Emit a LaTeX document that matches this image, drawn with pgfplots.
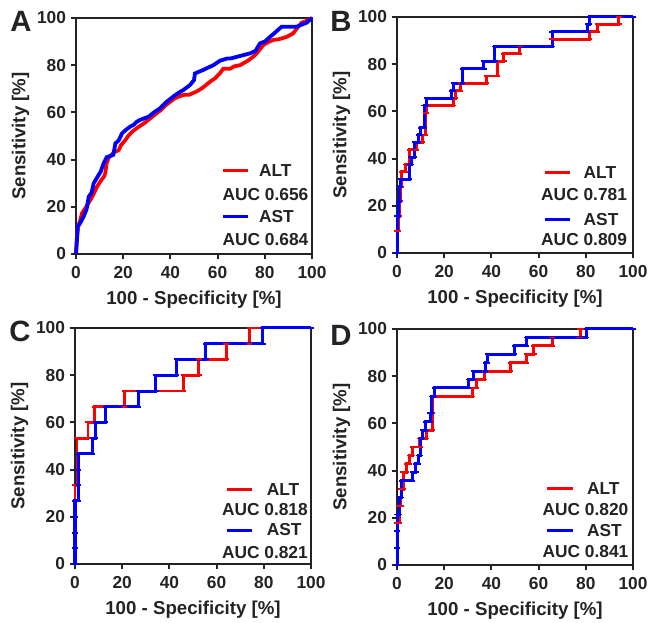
\documentclass[border=0pt]{standalone}
\usepackage{fontspec}
\setmainfont{Liberation Sans}
\usepackage{pgfplots}
\pgfplotsset{compat=1.18}
\definecolor{altred}{RGB}{255,0,0}
\definecolor{astblue}{RGB}{0,0,255}
\definecolor{ink}{RGB}{35,35,35}

\pgfplotsset{
  roc/.style={scale only axis, width=177pt, height=177pt, axis lines=box,
    xmin=0, xmax=100, ymin=0, ymax=100, clip=false,
    xtick={0,20,...,100}, ytick={0,20,...,100},
    tick pos=left, tick align=outside, major tick length=4pt,
    axis line style={line width=1.4pt, ink}, every tick/.style={line width=1.4pt, ink},
    tick label style={font=\fontsize{13}{13}\selectfont\bfseries, text=ink},
    xticklabel style={yshift=-2pt},
    /pgf/number format/assume math mode=true,
    label style={font=\fontsize{14}{14}\selectfont\bfseries, text=ink},
    xlabel shift=2pt, ylabel shift=-1pt,
    xlabel={100 - Specificity [\%]}, ylabel={Sensitivity [\%]},
    every axis plot/.append style={line width=2.2pt}},
  stepmarks/.style={mark=-, mark size=2pt, mark options={line width=1.4pt}},
}
% legend: #1 line x0, #2 ALT x, #3 AUC x, #4-#7 row heights, #8 #9 AUC values
\newcommand{\rocleg}[9]{%
  \draw[ink, line width=1.45pt] (rel axis cs:0,1) -- (rel axis cs:1,1) -- (rel axis cs:1,0);
  \draw[altred, line width=2.2pt] (rel axis cs:#1,#4) -- (rel axis cs:#1+0.108,#4);
  \node[anchor=west, inner sep=0pt, font=\fontsize{13}{13}\selectfont\bfseries, text=ink] at (rel axis cs:#2,#4) {ALT};
  \node[anchor=west, inner sep=0pt, font=\fontsize{13}{13}\selectfont\bfseries, text=ink] at (rel axis cs:#3,#5) {AUC #8};
  \draw[astblue, line width=2.25pt] (rel axis cs:#1,#6) -- (rel axis cs:#1+0.108,#6);
  \node[anchor=west, inner sep=0pt, font=\fontsize{13}{13}\selectfont\bfseries, text=ink] at (rel axis cs:#2,#6) {AST};
  \node[anchor=west, inner sep=0pt, font=\fontsize{13}{13}\selectfont\bfseries, text=ink] at (rel axis cs:#3,#7) {AUC #9};
}

\begin{document}
\begin{tikzpicture}
\useasboundingbox (0,0) rectangle (487.5pt,-467.25pt);

% ---------- A ----------
\begin{axis}[roc, at={(57pt,-13.5pt)}, anchor=north west]
\rocleg{0.622}{0.775}{0.62}{0.353}{0.25}{0.158}{0.062}{0.656}{0.684}
\addplot[altred, line width=2.8pt] coordinates {(0,0) (0.3,6) (0.8,11.6) (1.7,14) (2.5,17.2) (4,19.5) (6.1,22.9) (7.5,25.5) (8.9,28.5) (10.5,31) (12,33) (12.4,34.2) (13,38.5) (14,41) (16,43) (18.1,44) (19,46) (20.9,48.3) (22.5,50.5) (24,52) (26.6,53.9) (29,55.5) (31.5,57.5) (34,59.5) (36,61) (38,63) (41.2,65.5) (43,66.5) (45.5,67.4) (48,67.5) (51,68.8) (53,70) (55,71.5) (56.8,73) (59,74.5) (61,76.6) (62.4,78.5) (65.3,78.5) (67,79.5) (69.5,80) (70.9,80.8) (73,82) (75.1,83.6) (77,85.5) (79.4,88.6) (81.5,89.8) (83.6,90.7) (86,91) (89.3,92) (92,93.5) (94.2,96.3) (95.6,98) (97,98.5) (100,100)};
\addplot[astblue, line width=2.85pt] coordinates {(0,0) (0.4,5.9) (0.8,11.6) (2,13.5) (3.2,15.8) (4.5,19) (5.4,24.3) (6.6,26) (7.5,30) (9.6,33.5) (10.5,35) (11.7,38.4) (13,41) (15.8,42) (16.7,46.9) (18,48) (19.5,51.1) (21,52.5) (23,54) (24.4,54.7) (25.7,56) (27.1,56.8) (30.8,58.2) (33,60) (35.6,61.7) (38.4,64.5) (41.2,66.7) (43,68) (45.5,69.5) (48.3,71.6) (50,73.7) (50.4,76.5) (53.9,78) (56,79) (58.2,80) (61,81.9) (64,82.8) (65.3,82.8) (69.5,83.9) (73.7,85) (76,86) (78,89.3) (80,90) (82.2,92) (84,93.5) (87.1,96.3) (93.5,96.3) (95.6,97.2) (97.7,98) (100,100)};
\end{axis}

% ---------- B ----------
\begin{axis}[roc, at={(297.75pt,-12.75pt)}, anchor=north west]
\rocleg{0.626}{0.79}{0.61}{0.34}{0.246}{0.143}{0.055}{0.781}{0.809}
\addplot[altred, stepmarks] coordinates {(0,0) (0,9.4) (0.5,9.4) (0.5,15.6) (1,15.6) (1,21.9) (1.5,21.9) (1.5,28.1) (1.9,28.1) (1.9,34.4) (3.7,34.4) (3.7,37.5) (5.2,37.5) (5.2,43.75) (8.3,43.75) (8.3,46.9) (10.9,46.9) (10.9,50) (12,50) (12,59.4) (12.6,59.4) (12.6,62.5) (23.9,62.5) (23.9,65.6) (24.9,65.6) (24.9,68.75) (26.8,68.75) (26.8,71.9) (38,71.9) (38,75) (42.6,75) (42.6,81.25) (45.3,81.25) (45.3,84.4) (52,84.4) (52,87.5) (65.7,87.5) (65.7,90.6) (81.6,90.6) (81.6,93.75) (85,93.75) (85,96.9) (94,96.9) (94,100) (100,100)};
\addplot[astblue, stepmarks, line width=2.25pt] coordinates {(0,0) (0,15.6) (0.5,15.6) (0.5,21.9) (1,21.9) (1,28.1) (1.5,28.1) (1.5,31.25) (5.1,31.25) (5.1,37.5) (6,37.5) (6,40.6) (7.5,40.6) (7.5,46.9) (9,46.9) (9,50) (10,50) (10,53.1) (11.5,53.1) (11.5,62.5) (12.6,62.5) (12.6,65.6) (23.2,65.6) (23.2,68.75) (24,68.75) (24,71.9) (27.8,71.9) (27.8,78.1) (36.8,78.1) (36.8,81.25) (41.5,81.25) (41.5,87.5) (65.7,87.5) (65.7,93.75) (80.8,93.75) (80.8,96.9) (81.7,96.9) (81.7,100) (100,100)};
\end{axis}

% ---------- C ----------
\begin{axis}[roc, at={(56.25pt,-246pt)}, anchor=north west]
\rocleg{0.643}{0.812}{0.622}{0.317}{0.232}{0.144}{0.05}{0.818}{0.821}
\addplot[altred, stepmarks] coordinates {(0,0) (0,6.7) (0,13.3) (0,20) (0,26.7) (0,33.3) (0.85,33.3) (0.85,53.3) (5.5,53.3) (5.5,60) (8.4,60) (8.4,66.7) (21.1,66.7) (21.1,73.3) (45.9,73.3) (45.9,80) (52.5,80) (52.5,86.7) (64,86.7) (64,93.3) (73.8,93.3) (73.8,100) (100,100)};
\addplot[astblue, stepmarks, line width=2.25pt] coordinates {(0,0) (0,6.7) (0,13.3) (0,20) (0,26.7) (1.5,26.7) (1.5,33.3) (1.5,40) (1.5,46.7) (7.4,46.7) (7.4,53.3) (8.8,53.3) (8.8,60) (13,60) (13,66.7) (27,66.7) (27,73.3) (34.3,73.3) (34.3,80) (43,80) (43,86.7) (55.5,86.7) (55.5,93.3) (79.6,93.3) (79.6,100) (100,100)};
\end{axis}

% ---------- D ----------
\begin{axis}[roc, at={(297.75pt,-246.75pt)}, anchor=north west]
\rocleg{0.637}{0.804}{0.616}{0.325}{0.236}{0.145}{0.055}{0.820}{0.841}
\addplot[altred, stepmarks] coordinates {(0,0) (0,7.1) (0,14.3) (0,17.9) (0.9,17.9) (0.9,25) (1.7,25) (1.7,32.1) (2.6,32.1) (2.6,39.3) (4,39.3) (4,42.9) (5.4,42.9) (5.4,46.4) (6.6,46.4) (6.6,50) (9.7,50) (9.7,53.6) (12.6,53.6) (12.6,57.1) (15.1,57.1) (15.1,64.3) (15.1,71.4) (31.9,71.4) (31.9,75) (33.7,75) (33.7,78.6) (37,78.6) (37,82.1) (48,82.1) (48,85.7) (55,85.7) (55,89.3) (58,89.3) (58,92.9) (65.7,92.9) (65.7,96.4) (77.6,96.4) (77.6,100) (100,100)};
\addplot[astblue, stepmarks, line width=2.25pt] coordinates {(0,0) (0,7.1) (0,14.3) (0,21.4) (0.9,21.4) (0.9,28.6) (1.9,28.6) (1.9,35.7) (6.6,35.7) (6.6,39.3) (8,39.3) (8,42.9) (9,42.9) (9,46.4) (10,46.4) (10,53.6) (10.7,53.6) (10.7,57.1) (12,57.1) (12,60.7) (14,60.7) (14,64.3) (14.6,64.3) (14.6,71.4) (16,71.4) (16,75) (30.4,75) (30.4,78.6) (32.6,78.6) (32.6,82.1) (37.6,82.1) (37.6,85.7) (38.3,85.7) (38.3,89.3) (49.7,89.3) (49.7,92.9) (55,92.9) (55,96.4) (80.4,96.4) (80.4,100) (100,100)};
\end{axis}

\node[font=\fontsize{22}{22}\selectfont\bfseries, text=ink] at (15.75pt,-15.75pt) {A};
\node[font=\fontsize{22}{22}\selectfont\bfseries, text=ink] at (255.75pt,-15.75pt) {B};
\node[font=\fontsize{22}{22}\selectfont\bfseries, text=ink] at (15pt,-248.6pt) {C};
\node[font=\fontsize{22}{22}\selectfont\bfseries, text=ink] at (255.75pt,-251.25pt) {D};
\end{tikzpicture}
\end{document}
